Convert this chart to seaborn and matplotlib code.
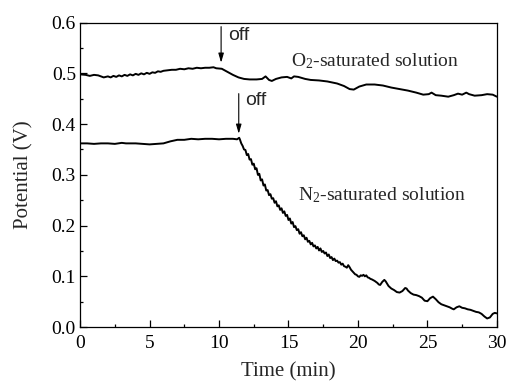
import matplotlib
matplotlib.use("Agg")
import matplotlib.pyplot as plt
import seaborn as sns
import pandas as pd
from matplotlib.ticker import MultipleLocator

# ---- data ----
o2_time = [0.0, 0.4, 0.7, 1.0, 1.3, 1.7, 2.0, 2.2, 2.4, 2.6, 2.8, 3.0, 3.2, 3.4, 3.6, 3.8,
           4.0, 4.2, 4.4, 4.6, 4.8, 5.0, 5.2, 5.4, 5.6, 5.8, 6.0, 6.3, 6.6, 6.9, 7.2, 7.5,
           7.8, 8.1, 8.4, 8.7, 9.0, 9.3, 9.6, 9.8, 10.2, 10.6, 11.0, 11.4, 11.8, 12.2,
           12.7, 13.1, 13.35, 13.6, 13.8, 14.1, 14.5, 14.9, 15.2, 15.4, 15.7, 16.2, 16.6,
           17.2, 17.8, 18.5, 19.0, 19.4, 19.7, 20.1, 20.6, 21.2, 21.8, 22.4, 23.0, 23.6,
           24.2, 24.7, 25.1, 25.3, 25.6, 26.0, 26.5, 26.9, 27.2, 27.5, 27.8, 28.0, 28.4,
           28.9, 29.3, 29.7, 30.0]
o2_potential = [0.498, 0.497, 0.495, 0.497, 0.496, 0.492, 0.494, 0.492, 0.495, 0.493, 0.496,
                0.494, 0.497, 0.495, 0.498, 0.496, 0.499, 0.497, 0.500, 0.498, 0.501, 0.499,
                0.502, 0.501, 0.504, 0.503, 0.505, 0.506, 0.507, 0.507, 0.509, 0.508, 0.510,
                0.509, 0.511, 0.510, 0.511, 0.511, 0.512, 0.510, 0.509, 0.503, 0.497, 0.492,
                0.489, 0.488, 0.488, 0.489, 0.494, 0.487, 0.485, 0.489, 0.492, 0.493, 0.490,
                0.494, 0.493, 0.489, 0.487, 0.486, 0.484, 0.480, 0.475, 0.469, 0.468, 0.474,
                0.478, 0.478, 0.476, 0.472, 0.469, 0.466, 0.462, 0.458, 0.459, 0.462, 0.457,
                0.456, 0.454, 0.457, 0.460, 0.458, 0.462, 0.459, 0.456, 0.457, 0.459, 0.458,
                0.454]

n2_time = [0.0, 0.5, 1.0, 1.5, 2.0, 2.5, 3.0, 3.3, 3.6, 4.0, 4.5, 5.0, 5.5, 6.0, 6.5, 7.0,
           7.5, 8.0, 8.5, 9.0, 9.5, 10.0, 10.5, 11.0, 11.3, 11.45,
           11.5, 11.6, 11.7, 11.8, 11.9, 12.0, 12.1, 12.2, 12.3, 12.4, 12.5, 12.6, 12.7,
           12.8, 12.9, 13.0, 13.1, 13.2, 13.3, 13.4, 13.5, 13.6, 13.7, 13.8, 13.9, 14.0,
           14.1, 14.2, 14.3, 14.4, 14.5, 14.6, 14.7, 14.8, 14.9, 15.0, 15.1, 15.2, 15.3,
           15.4, 15.5, 15.6, 15.7, 15.8, 15.9, 16.0, 16.1, 16.2, 16.3, 16.4, 16.5, 16.6,
           16.7, 16.8, 16.9, 17.0, 17.1, 17.2, 17.3, 17.4, 17.5, 17.6, 17.7, 17.8, 17.9,
           18.0, 18.1, 18.2, 18.3, 18.4, 18.5, 18.6, 18.7, 18.8, 18.9, 19.0, 19.1, 19.2,
           19.3, 19.4, 19.5, 19.6, 19.7, 19.8, 19.9, 20.0, 20.1, 20.2, 20.3, 20.4, 20.5,
           20.6, 20.7, 20.8, 20.9, 21.0, 21.2, 21.4, 21.5, 21.6, 21.75, 21.9, 22.0, 22.2,
           22.4, 22.6, 22.8, 23.0, 23.2, 23.4, 23.5, 23.6, 23.8, 24.0, 24.2, 24.4, 24.6,
           24.8, 25.0, 25.2, 25.4, 25.6, 25.8, 26.0, 26.2, 26.4, 26.6, 26.8, 26.9, 27.1,
           27.3, 27.5, 27.7, 27.9, 28.1, 28.3, 28.5, 28.7, 28.9, 29.1, 29.3, 29.5, 29.7,
           29.85, 30.0]
n2_potential = [0.362, 0.362, 0.361, 0.362, 0.362, 0.361, 0.363, 0.362, 0.362, 0.362, 0.361,
                0.360, 0.361, 0.362, 0.366, 0.369, 0.369, 0.371, 0.370, 0.371, 0.371, 0.370,
                0.371, 0.371, 0.370, 0.373,
                0.370, 0.362, 0.357, 0.350, 0.349, 0.339, 0.341, 0.330, 0.331, 0.320, 0.322,
                0.311, 0.313, 0.300, 0.302, 0.289, 0.291, 0.279, 0.281, 0.269, 0.270, 0.260,
                0.262, 0.253, 0.254, 0.245, 0.248, 0.238, 0.240, 0.231, 0.234, 0.225, 0.228,
                0.219, 0.221, 0.211, 0.214, 0.204, 0.207, 0.197, 0.199, 0.191, 0.193, 0.184,
                0.187, 0.179, 0.181, 0.173, 0.176, 0.168, 0.170, 0.163, 0.166, 0.159, 0.161,
                0.155, 0.158, 0.151, 0.155, 0.148, 0.150, 0.145, 0.147, 0.140, 0.143, 0.136,
                0.138, 0.132, 0.135, 0.130, 0.131, 0.127, 0.128, 0.123, 0.125, 0.120, 0.119,
                0.117, 0.122, 0.118, 0.113, 0.110, 0.107, 0.104, 0.103, 0.100, 0.099, 0.102,
                0.101, 0.103, 0.100, 0.102, 0.098, 0.097, 0.095, 0.094, 0.091, 0.087, 0.084,
                0.083, 0.089, 0.093, 0.090, 0.081, 0.076, 0.073, 0.069, 0.068, 0.071, 0.077,
                0.076, 0.072, 0.067, 0.064, 0.063, 0.061, 0.058, 0.052, 0.051, 0.057, 0.060,
                0.055, 0.049, 0.045, 0.043, 0.041, 0.039, 0.036, 0.035, 0.039, 0.041, 0.038,
                0.037, 0.035, 0.034, 0.032, 0.030, 0.029, 0.026, 0.021, 0.017, 0.019, 0.026,
                0.028, 0.027]

x_ticks = [0, 5, 10, 15, 20, 25, 30]
y_ticks = [0.0, 0.1, 0.2, 0.3, 0.4, 0.5, 0.6]
o2_label = "O$_2$-saturated solution"
n2_label = "N$_2$-saturated solution"

# ---- styling ----
sns.set_style("ticks")
plt.rcParams["font.family"] = ["Liberation Serif", "DejaVu Serif"]
plt.rcParams["mathtext.fontset"] = "custom"
plt.rcParams["mathtext.rm"] = "Liberation Serif"
plt.rcParams["mathtext.it"] = "Liberation Serif"

fig = plt.figure(figsize=(5.07, 3.83), dpi=100)
ax = fig.add_axes([0.158, 0.146, 0.822, 0.795])

df_o2 = pd.DataFrame({"t": o2_time, "v": o2_potential})
df_n2 = pd.DataFrame({"t": n2_time, "v": n2_potential})
sns.lineplot(data=df_o2, x="t", y="v", ax=ax, color="black", lw=1.4, estimator=None, sort=False)
sns.lineplot(data=df_n2, x="t", y="v", ax=ax, color="black", lw=1.4, estimator=None, sort=False)

ax.set_xlim(0, 30)
ax.set_ylim(0.0, 0.6)
ax.set_xticks(x_ticks)
ax.set_yticks(y_ticks)
ax.set_xticklabels([str(v) for v in x_ticks])
ax.set_yticklabels([f"{v:.1f}" for v in y_ticks])
ax.xaxis.set_minor_locator(MultipleLocator(2.5))
ax.yaxis.set_minor_locator(MultipleLocator(0.05))
ax.tick_params(which="both", direction="in", top=False, right=False, width=0.9,
               labelsize=14, colors="black")
ax.tick_params(which="major", length=5)
ax.tick_params(axis="y", which="major", pad=3)
ax.tick_params(axis="x", which="major", pad=6)
ax.tick_params(which="minor", length=2.5)
for s in ax.spines.values():
    s.set_linewidth(0.9)
    s.set_color("black")

ax.set_xlabel("Time (min)", fontsize=15, labelpad=7)
ax.set_ylabel("Potential (V)", fontsize=15, labelpad=13)

ax.text(15.2, 0.525, o2_label, fontsize=14, va="center", ha="left")
ax.text(15.7, 0.260, n2_label, fontsize=14, va="center", ha="left")

arrow = dict(arrowstyle="-|>,head_length=0.55,head_width=0.16", color="black", lw=0.8,
             shrinkA=0, shrinkB=0)
ax.annotate("", xy=(10.15, 0.521), xytext=(10.15, 0.592), arrowprops=arrow)
ax.annotate("", xy=(11.42, 0.381), xytext=(11.42, 0.460), arrowprops=arrow)
ax.text(10.65, 0.574, "off", fontsize=14, va="center", ha="left",
        family=["Liberation Sans", "DejaVu Sans"])
ax.text(11.9, 0.446, "off", fontsize=14, va="center", ha="left",
        family=["Liberation Sans", "DejaVu Sans"])

fig.savefig("out.png", dpi=100)
